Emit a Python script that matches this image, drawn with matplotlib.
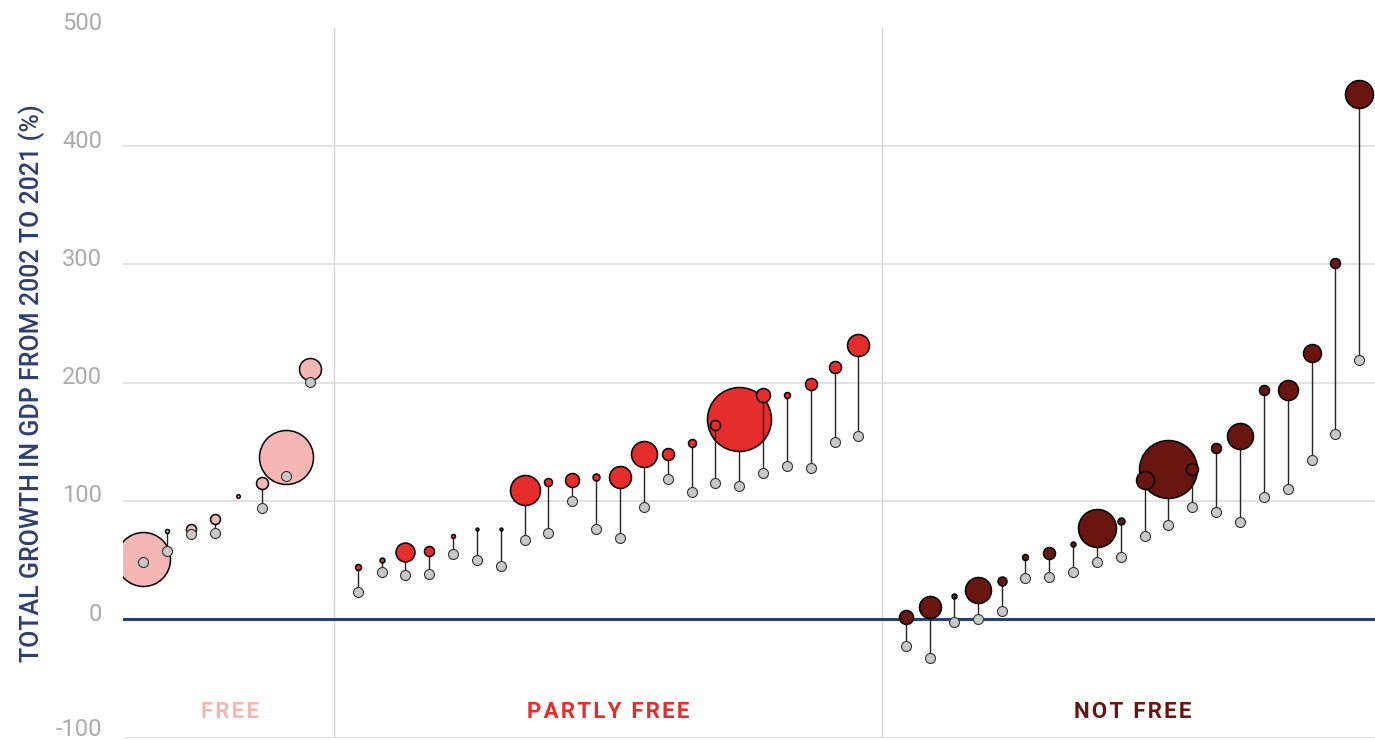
import numpy as np
import matplotlib.pyplot as plt
from matplotlib.transforms import ScaledTranslation

plt.rcParams['font.family'] = ['Roboto', 'DejaVu Sans']
plt.rcParams['axes.unicode_minus'] = False

# growth values per country, sorted within each group
free_start = [48, 58, 72, 73, np.nan, 94, 121, 201]
free_end = [51, 75, 76, 85, 104, 115, 137, 212]
free_size = [729, 4, 25, 25, 3, 36, 729, 121]

partly_start = [23, 40, 37, 38, 55, 50, 45, 67, 73, 100, 76, 69,
                95, 119, 108, 115, 113, 124, 130, 128, 150, 155]
partly_end = [44, 50, 57, 58, 70, 76, 76, 109, 116, 118, 120, 120,
              140, 140, 149, 164, 169, 190, 190, 199, 213, 232]
partly_size = [9, 6, 90, 25, 4, 2, 2, 225, 16, 49, 12, 121,
               169, 36, 16, 25, 1024, 49, 9, 36, 36, 121]

notfree_start = [-23, -33, -2, 0, 7, 35, 36, 40, 48, 53, 70, 80,
                 95, 91, 82, 103, 110, 135, 157, 219]
notfree_end = [2, 10, 20, 25, 32, 53, 56, 64, 77, 83, 118, 127,
               127, 145, 155, 194, 194, 225, 301, 444]
notfree_size = [49, 121, 6, 169, 20, 9, 36, 6, 361, 12, 81, 841,
                36, 25, 169, 25, 100, 81, 25, 196]

groups = [
    ("FREE", "#F4B7B4", free_start, free_end, free_size),
    ("PARTLY FREE", "#E52D2B", partly_start, partly_end, partly_size),
    ("NOT FREE", "#68160F", notfree_start, notfree_end, notfree_size),
]

fig = plt.figure(figsize=(13.75, 7.4), dpi=100)
ax = fig.add_axes([123 / 1375, 2.5 / 740, 1252 / 1375, 709.5 / 740])

k = (2 * 0.72) ** 2  # px radius^2 -> points^2
pos = 0
centers = []
seps = []
for name, color, start, end, size in groups:
    xs = np.arange(pos, pos + len(start))
    centers.append(xs.mean())
    order = np.argsort(size)[::-1]
    z = 3
    for i in order:
        if not np.isnan(start[i]):
            ax.plot([xs[i], xs[i]], [start[i], end[i]], color="#222222",
                    lw=1, zorder=z)
        ax.scatter(xs[i], end[i], s=size[i] * k, color=color,
                   edgecolor="black", linewidth=1.1, zorder=z + 0.5)
        z += 1
    ax.scatter(xs, start, s=(5 * 1.44) ** 2, color="#C8C8C8",
               edgecolor="#333333", linewidth=0.8, zorder=200)
    pos += len(start) + 1
    seps.append(pos - 1)

for s in seps[:-1]:
    ax.axvline(s, color="#D5D5D5", lw=1, zorder=1)

for v in [-100, 100, 200, 300, 400]:
    ax.axhline(v, color="#DDDDDD", lw=1.2, zorder=1)
ax.axhline(0, color="#2B3F73", lw=2.2, zorder=2)

ax.set_xlim(-0.84, 51.66)
ax.set_ylim(-100, 500)
ax.set_yticks([-100, 0, 100, 200, 300, 400, 500])
ax.tick_params(axis="y", length=0, pad=15, labelsize=17,
               labelcolor="#ABABAB")
for i, lab in enumerate(ax.get_yticklabels()):
    dy = 0.105 if i == 0 else 0.075
    lab.set_transform(lab.get_transform() +
                      ScaledTranslation(0, dy, fig.dpi_scale_trans))
ax.set_xticks([])
for sp in ax.spines.values():
    sp.set_visible(False)

ax.set_ylabel("TOTAL GROWTH IN GDP FROM 2002 TO 2021 (%)", fontsize=18,
              color="#2B3F73", fontweight="medium", labelpad=8)

for (name, color, *_), cx in zip(groups, centers):
    ax.text(cx + (0.15 if name == "FREE" else 0), -78.5, "\u200a".join(name),
            ha="center", va="center", color=color, fontsize=16,
            fontweight="bold")

fig.savefig("out.png", dpi=100)
